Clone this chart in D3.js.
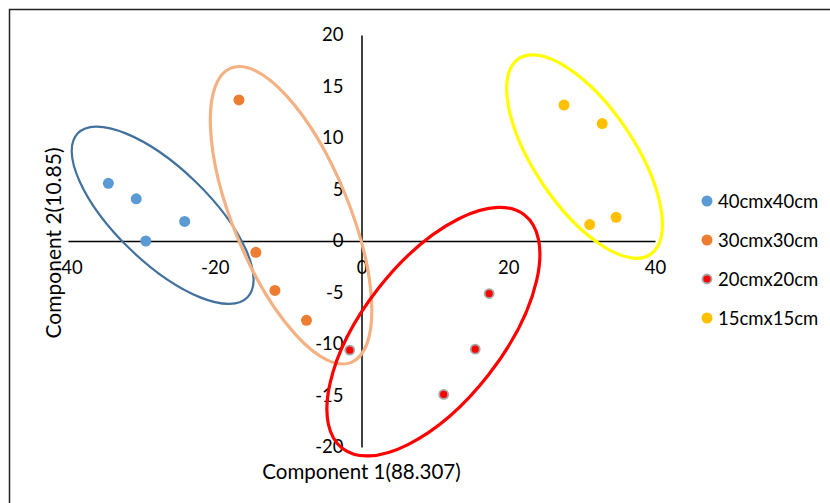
<!DOCTYPE html>
<html>
<head>
<meta charset="utf-8">
<script src="https://cdn.jsdelivr.net/npm/d3@7"></script>
<style>
body { margin: 0; background: #fff; }
text { font-family: Lato, "Open Sans", sans-serif; fill: #000; }
</style>
</head>
<body>
<svg id="chart"></svg>
<script>
//Series names
var categories = ["40cmx40cm", "30cmx30cm", "20cmx20cm", "15cmx15cm"];

//Component 1 / Component 2 scores for each series
var x40 = [-34.5, -30.7, -24.1, -29.4];
var y40 = [5.6, 4.1, 1.9, 0.0];
var x30 = [-16.7, -14.4, -11.8, -7.5];
var y30 = [13.7, -1.1, -4.8, -7.7];
var x20 = [-1.6, 17.4, 15.5, 11.2];
var y20 = [-10.6, -5.1, -10.5, -14.9];
var x15 = [27.6, 32.8, 31.1, 34.7];
var y15 = [13.2, 11.4, 1.6, 2.3];

//Axis ticks
var xTicks = [-40, -20, 0, 20, 40];
var yTicks = [-20, -15, -10, -5, 0, 5, 10, 15, 20];

//Group ellipse centres (data units)
var ellipseCx = [-27.1, -9.6, 9.8, 30.4];
var ellipseCy = [2.5, 2.5, -8.8, 8.2];

var svgWidth = 830;
var svgHeight = 503;

var colors = ["#5B9BD5", "#ED7D31", "#FF0000", "#FFC000"];
var ringColors = ["#41719C", "#F4B183", "#FF0000", "#FFFF00"];
var ringWidth = [2.2, 3.2, 3.2, 3.2];
//semi axes (px) and rotation for the ellipses
var ringA = [118, 159, 148, 118];
var ringB = [47, 58, 70, 50];
var ringRot = [44, 67.7, -52, 56];

var series = categories.map(function (c, i) {
    var xs = [x40, x30, x20, x15][i];
    var ys = [y40, y30, y20, y15][i];
    return { name: c, color: colors[i], points: xs.map(function (d, j) { return [d, ys[j]]; }) };
});

var svg = d3.select("#chart")
    .attr("width", svgWidth)
    .attr("height", svgHeight);

//Frame round the chart
svg.append("rect")
    .attr("x", 9.5).attr("y", 9.5)
    .attr("width", 900).attr("height", 600)
    .attr("fill", "none")
    .attr("stroke", "#222")
    .attr("stroke-width", 1.5);

var x = d3.scaleLinear([-40, 40], [68, 655]);
var y = d3.scaleLinear([-20, 20], [447, 35]);

//plain hyphen for negatives, like the original
var fmt = function (d) { return String(d); };

//Axes crossing at the origin
var xAxis = d3.axisBottom(x).tickValues(xTicks).tickFormat(fmt).tickSize(0).tickSizeOuter(0).tickPadding(20);
var yAxis = d3.axisLeft(y).tickValues(yTicks).tickFormat(fmt).tickSize(0).tickSizeOuter(0).tickPadding(18);

var gx = svg.append("g")
    .attr("transform", "translate(0," + y(0) + ")")
    .call(xAxis);
var gy = svg.append("g")
    .attr("transform", "translate(" + x(0) + ",0)")
    .call(yAxis);

svg.selectAll(".domain").attr("stroke", "#000").attr("stroke-width", 1.5);
svg.selectAll(".tick text")
    .style("font-family", "Lato, sans-serif")
    .style("font-size", "18.5px")
    .attr("fill", "#000");

//Group ellipses
svg.append("g").selectAll("ellipse")
    .data(categories)
    .enter()
    .append("ellipse")
        .attr("rx", function (d, i) { return ringA[i]; })
        .attr("ry", function (d, i) { return ringB[i]; })
        .attr("transform", function (d, i) {
            return "translate(" + x(ellipseCx[i]) + "," + y(ellipseCy[i]) + ") rotate(" + ringRot[i] + ")";
        })
        .attr("fill", "none")
        .attr("stroke", function (d, i) { return ringColors[i]; })
        .attr("stroke-width", function (d, i) { return ringWidth[i]; });

//Points
var groups = svg.append("g").selectAll("g")
    .data(series)
    .enter()
    .append("g");

groups.selectAll("circle")
    .data(function (d) { return d.points.map(function (p) { return { p: p, s: d }; }); })
    .enter()
    .append("circle")
        .attr("cx", function (d) { return x(d.p[0]); })
        .attr("cy", function (d) { return y(d.p[1]); })
        .attr("r", function (d) { return d.s.name === "20cmx20cm" ? 4.5 : 5.5; })
        .attr("fill", function (d) { return d.s.color; })
        .attr("stroke", function (d) { return d.s.name === "20cmx20cm" ? "#A6A6A6" : "none"; })
        .attr("stroke-width", 1.8);

//Axis titles
svg.append("text")
    .attr("x", x(0))
    .attr("y", 478.5)
    .attr("text-anchor", "middle")
    .style("font-size", "20.5px")
    .text("Component 1(88.307)");

svg.append("text")
    .attr("transform", "translate(61," + 243 + ") rotate(-90)")
    .attr("text-anchor", "middle")
    .style("font-size", "21px")
    .text("Component 2(10.85)");

//Legend
var legend = svg.append("g").selectAll("g")
    .data(series)
    .enter()
    .append("g")
        .attr("transform", function (d, i) { return "translate(707," + (201 + i * 39) + ")"; });

legend.append("circle")
    .attr("r", function (d) { return d.name === "20cmx20cm" ? 4.5 : 5.5; })
    .attr("fill", function (d) { return d.color; })
    .attr("stroke", function (d) { return d.name === "20cmx20cm" ? "#A6A6A6" : "none"; })
    .attr("stroke-width", 1.8);

legend.append("text")
    .attr("x", 11)
    .attr("y", 6.5)
    .style("font-size", "18.5px")
    .text(function (d) { return d.name; });
</script>
</body>
</html>
